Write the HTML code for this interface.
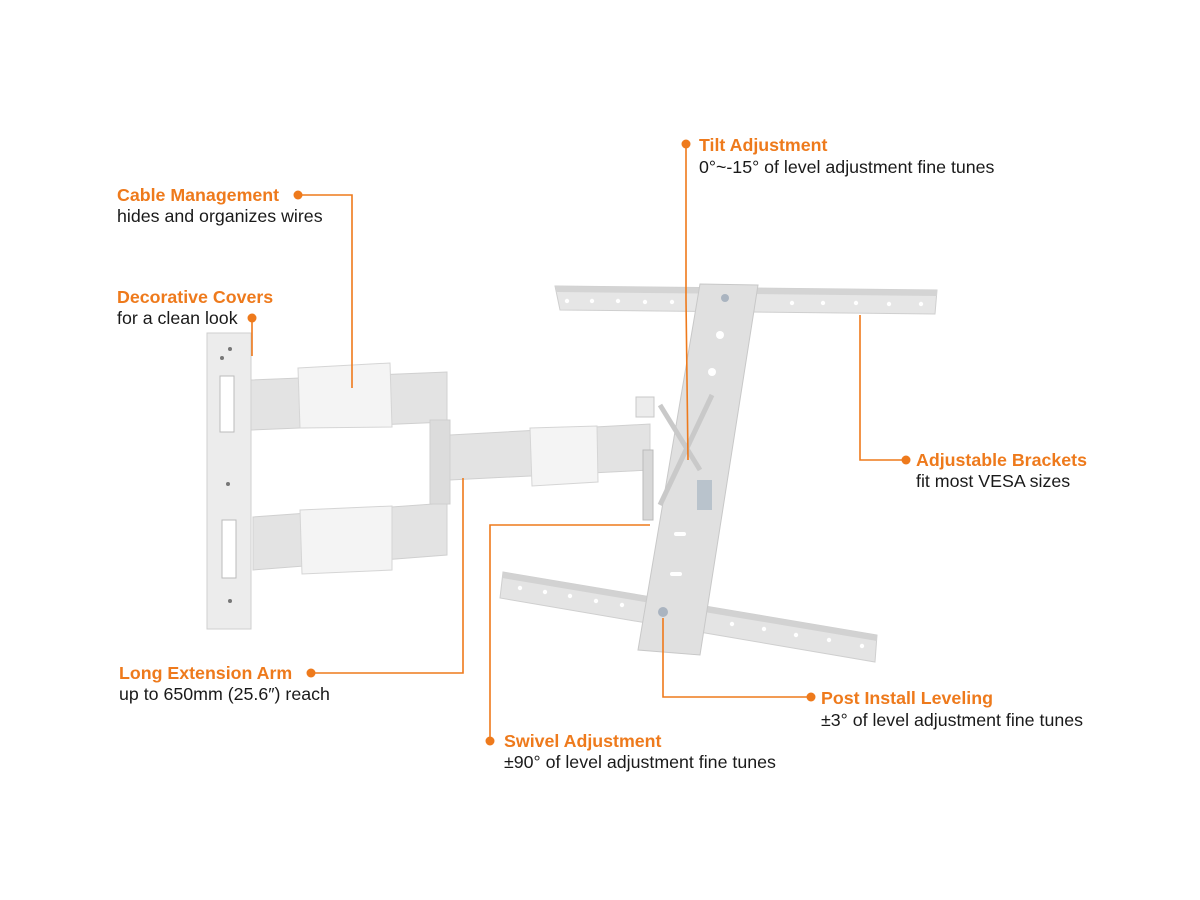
<!DOCTYPE html>
<html><head><meta charset="utf-8"><style>
html,body{margin:0;padding:0;background:#fff;}
svg{display:block;}
.t{font-family:"Liberation Sans",Arial,sans-serif;font-size:17.8px;}
.o{fill:#ee7a1c;font-weight:bold;}
.k{fill:#1a1a1a;}
</style></head><body>
<svg width="1200" height="900" viewBox="0 0 1200 900" xmlns="http://www.w3.org/2000/svg">
<polygon points="555,286 937,290 935,314 560,310" fill="#e6e6e6" stroke="#cfcfcf"/>
<polygon points="555,286 937,290 937,296 557,292" fill="#d4d4d4"/>
<g fill="#fff"><circle cx="567" cy="301" r="2.2"/><circle cx="592" cy="301" r="2.2"/><circle cx="618" cy="301" r="2.2"/><circle cx="645" cy="302" r="2.2"/><circle cx="672" cy="302" r="2.2"/><circle cx="792" cy="303" r="2.2"/><circle cx="823" cy="303" r="2.2"/><circle cx="856" cy="303" r="2.2"/><circle cx="889" cy="304" r="2.2"/><circle cx="921" cy="304" r="2.2"/></g>
<polygon points="503,572 877,635 875,662 500,598" fill="#e4e4e4" stroke="#cfcfcf"/>
<polygon points="503,572 877,635 877,641 502,578" fill="#d2d2d2"/>
<g fill="#fff"><circle cx="520" cy="588" r="2.2"/><circle cx="545" cy="592" r="2.2"/><circle cx="570" cy="596" r="2.2"/><circle cx="596" cy="601" r="2.2"/><circle cx="622" cy="605" r="2.2"/><circle cx="732" cy="624" r="2.2"/><circle cx="764" cy="629" r="2.2"/><circle cx="796" cy="635" r="2.2"/><circle cx="829" cy="640" r="2.2"/><circle cx="862" cy="646" r="2.2"/></g>
<polygon points="700,284 758,285 700,655 638,650" fill="#e0e0e0" stroke="#c8c8c8"/>
<g fill="#fff"><circle cx="720" cy="335" r="4"/><circle cx="712" cy="372" r="4"/><rect x="674" y="532" width="12" height="4" rx="2"/><rect x="670" y="572" width="12" height="4" rx="2"/></g>
<circle cx="725" cy="298" r="4" fill="#aab4c0"/><circle cx="663" cy="612" r="5" fill="#aab4c0"/>
<rect x="207" y="333" width="44" height="296" fill="#ececec" stroke="#cfcfcf"/>
<rect x="220" y="376" width="14" height="56" fill="#fff" stroke="#bbb"/>
<rect x="222" y="520" width="14" height="58" fill="#fff" stroke="#bbb"/>
<g fill="#777"><circle cx="230" cy="349" r="2"/><circle cx="222" cy="358" r="2"/><circle cx="228" cy="484" r="2"/><circle cx="230" cy="601" r="2"/></g>
<polygon points="251,380 447,372 447,422 251,430" fill="#e3e3e3" stroke="#d0d0d0"/>
<polygon points="298,368 390,363 392,427 300,428" fill="#f4f4f4" stroke="#d5d5d5"/>
<polygon points="253,517 447,503 447,555 253,570" fill="#e3e3e3" stroke="#d0d0d0"/>
<polygon points="300,510 392,506 392,570 302,574" fill="#f4f4f4" stroke="#d5d5d5"/>
<rect x="430" y="420" width="20" height="84" fill="#dcdcdc" stroke="#cfcfcf"/>
<polygon points="450,435 650,424 650,470 450,480" fill="#e3e3e3" stroke="#d0d0d0"/>
<polygon points="530,428 597,426 598,482 532,486" fill="#f4f4f4" stroke="#d5d5d5"/>
<rect x="636" y="397" width="18" height="20" fill="#ececec" stroke="#c8c8c8"/>
<rect x="643" y="450" width="10" height="70" fill="#d8d8d8" stroke="#bbb"/>
<line x1="660" y1="405" x2="700" y2="470" stroke="#c9c9c9" stroke-width="5"/>
<line x1="712" y1="395" x2="660" y2="505" stroke="#c9c9c9" stroke-width="5"/>
<rect x="697" y="480" width="15" height="30" fill="#b9c3cc"/>
<g stroke="#ee7a1c" stroke-width="1.6" fill="none">
<polyline points="298,195 352,195 352,388"/>
<polyline points="252,318 252,356"/>
<polyline points="686,144 686,300 688,460"/>
<polyline points="860,315 860,460 906,460"/>
<polyline points="311,673 463,673 463,478"/>
<polyline points="663,618 663,697 811,697"/>
<polyline points="490,741 490,525 650,525"/>
</g>
<g fill="#ee7a1c"><circle cx="298" cy="195" r="4.5"/><circle cx="252" cy="318" r="4.5"/><circle cx="686" cy="144" r="4.5"/><circle cx="906" cy="460" r="4.5"/><circle cx="311" cy="673" r="4.5"/><circle cx="811" cy="697" r="4.5"/><circle cx="490" cy="741" r="4.5"/></g>
<text class="t o" x="117" y="201">Cable Management</text>
<text class="t k" x="117" y="222">hides and organizes wires</text>
<text class="t o" x="117" y="303">Decorative Covers</text>
<text class="t k" x="117" y="324">for a clean look</text>
<text class="t o" x="699" y="151">Tilt Adjustment</text>
<text class="t k" x="699" y="173">0°~-15° of level adjustment fine tunes</text>
<text class="t o" x="916" y="466">Adjustable Brackets</text>
<text class="t k" x="916" y="487">fit most VESA sizes</text>
<text class="t o" x="119" y="679">Long Extension Arm</text>
<text class="t k" x="119" y="700">up to 650mm (25.6″) reach</text>
<text class="t o" x="821" y="704">Post Install Leveling</text>
<text class="t k" x="821" y="726">±3° of level adjustment fine tunes</text>
<text class="t o" x="504" y="747">Swivel Adjustment</text>
<text class="t k" x="504" y="768">±90° of level adjustment fine tunes</text>
</svg>
</body></html>
